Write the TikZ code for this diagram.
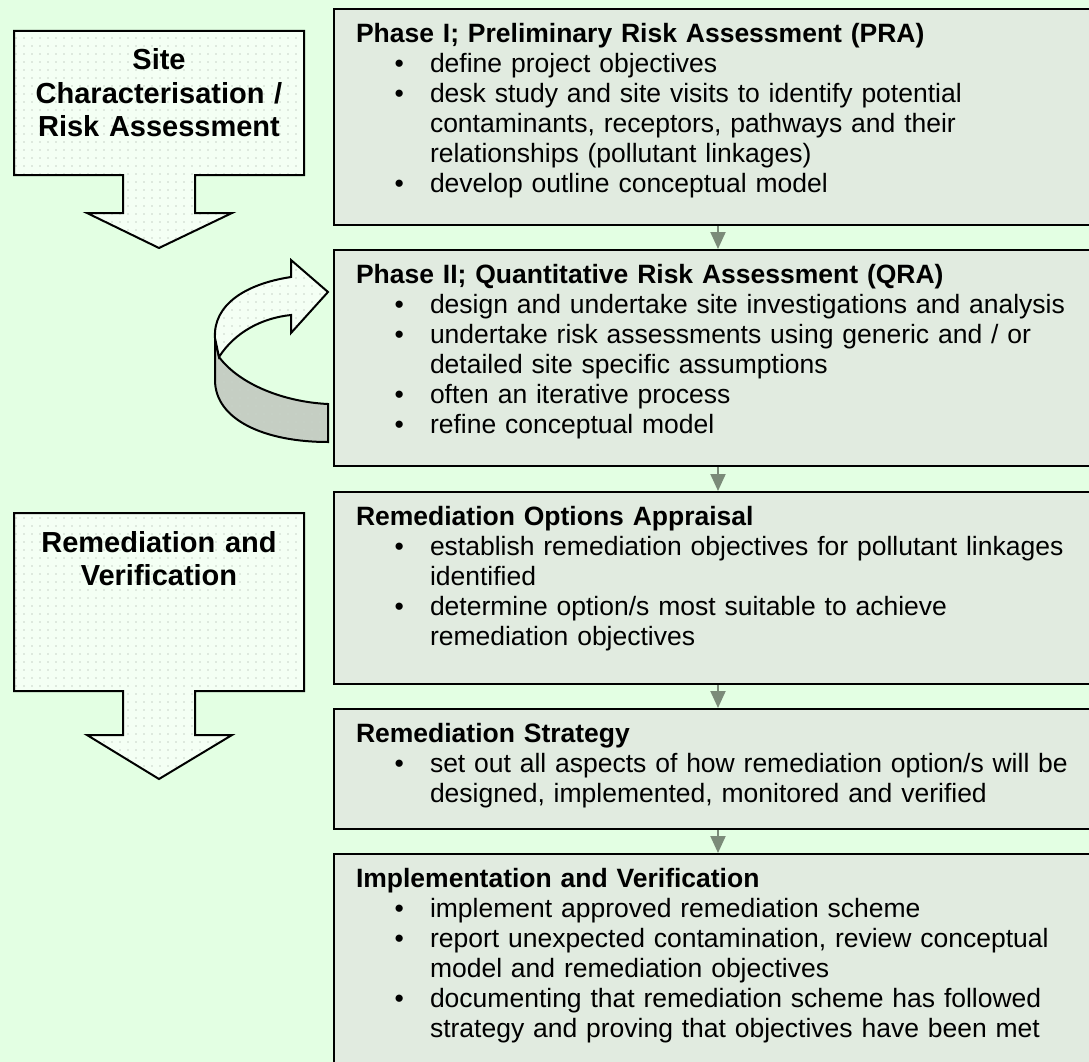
\documentclass[tikz,border=0pt]{standalone}
\usepackage{fontspec}
\setmainfont{Liberation Sans}
\usetikzlibrary{arrows.meta,patterns.meta}
\definecolor{pagebg}{HTML}{E3FFE3}
\definecolor{boxfill}{HTML}{E1EBE0}
\definecolor{linkgray}{HTML}{7B8B79}
\definecolor{arrowfill}{HTML}{F4FFF4}
\definecolor{dotgray}{HTML}{C9D3C9}
\definecolor{backfold}{HTML}{C5CEC3}
\newenvironment{pts}{\begin{list}{\textbullet}{\setlength{\leftmargin}{74pt}\setlength{\labelwidth}{30pt}\setlength{\labelsep}{26pt}%
	\setlength{\itemsep}{0pt}\setlength{\parsep}{0pt}\setlength{\topsep}{0pt}\setlength{\partopsep}{0pt}}}{\end{list}}
\begin{document}
\begin{tikzpicture}[x=1pt,y=-1pt,line width=2pt,draw=black,font=\fontsize{26.5}{30}\selectfont\setlength{\parskip}{0pt}]
	\tikzstyle{ST}=[rectangle,draw=black,fill=boxfill,anchor=north west,text width=724pt,inner xsep=22pt,inner ysep=9.5pt,text height=24pt,align=left] % ST = stage box
	\tikzstyle{LK}=[draw=linkgray,line width=2pt,-{Triangle[width=15pt,length=17pt]}] % LK = link between stages
	\tikzstyle{BA}=[draw=black,line width=2pt,preaction={fill=arrowfill},pattern={Dots[distance=8pt,radius=0.9pt]},pattern color=dotgray] % BA = block arrow
	\tikzstyle{BF}=[BA,preaction={fill=backfold}] % BF = back of the loop
	\tikzstyle{BL}=[text width=290pt,align=center,inner sep=0pt,anchor=base,font=\fontsize{29}{33.5}\selectfont\bfseries] % BL = block arrow label
	\path[use as bounding box,clip] (0,0) rectangle (1089,1062);
	\fill[pagebg] (0,0) rectangle (1089,1062);
	% stages
	\node[ST,text depth=173pt] (PRA) at (333,8) {\textbf{Phase I; Preliminary Risk Assessment (PRA)}
		\begin{pts}
		\item define project objectives
		\item desk study and site visits to identify potential\\ contaminants, receptors, pathways and their\\ relationships (pollutant linkages)
		\item develop outline conceptual model
		\end{pts}};
	\node[ST,text depth=173pt] (QRA) at (333,249) {\textbf{Phase II; Quantitative Risk Assessment (QRA)}
		\begin{pts}
		\item design and undertake site investigations and analysis
		\item undertake risk assessments using generic and / or\\ detailed site specific assumptions
		\item often an iterative process
		\item refine conceptual model
		\end{pts}};
	\node[ST,text depth=149pt] (ROA) at (333,491) {\textbf{Remediation Options Appraisal}
		\begin{pts}
		\item establish remediation objectives for pollutant linkages\\ identified
		\item determine option/s most suitable to achieve\\ remediation objectives
		\end{pts}};
	\node[ST,text depth=77pt] (RS) at (333,708) {\textbf{Remediation Strategy}
		\begin{pts}
		\item set out all aspects of how remediation option/s will be\\ designed, implemented, monitored and verified
		\end{pts}};
	\node[ST,text depth=197pt] (IV) at (333,853) {\textbf{Implementation and Verification}
		\begin{pts}
		\item implement approved remediation scheme
		\item report unexpected contamination, review conceptual\\ model and remediation objectives
		\item documenting that remediation scheme has followed\\ strategy and proving that objectives have been met
		\end{pts}};
	\draw[LK] (PRA.south) -- (QRA.north);
	\draw[LK] (QRA.south) -- (ROA.north);
	\draw[LK] (ROA.south) -- (RS.north);
	\draw[LK] (RS.south) -- (IV.north);
	% block arrows on the left
	\draw[BA] (14,31) -- (304,31) -- (304,175) -- (195,175) -- (195,213) -- (232,213) -- (159,248) -- (87,213) -- (123,213) -- (123,175) -- (14,175) -- cycle;
	\node[BL] (SCRA) at (159,70) {Site\\Characterisation /\\Risk Assessment};
	\draw[BA] (14,513) -- (304,513) -- (304,691) -- (195,691) -- (195,735) -- (232,735) -- (159,779) -- (87,735) -- (123,735) -- (123,691) -- (14,691) -- cycle;
	\node[BL] (RV) at (159,552) {Remediation and\\Verification};
	% loop back into phase II
	\draw[BF] (215,338) -- (215,380) .. controls (215,420) and (265,442) .. (328,442) -- (328,404) .. controls (285,402) and (240,385) .. (219,357) -- cycle;
	\draw[BA] (291,277) .. controls (245,284) and (213,305) .. (215,338) -- (219,357) .. controls (235,332) and (262,318) .. (291,315) -- (291,333) -- (328,292) -- (291,260) -- cycle;
\end{tikzpicture}
\end{document}
